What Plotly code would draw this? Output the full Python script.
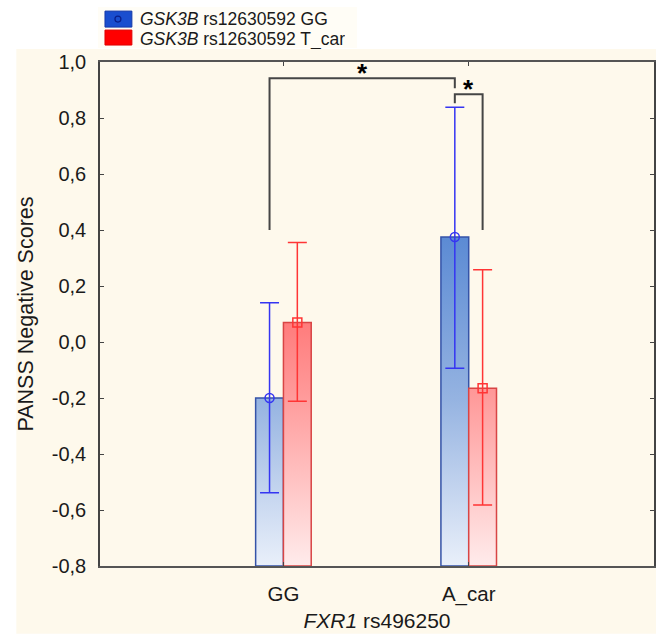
import plotly.graph_objects as go

# ---------------- data ----------------
categories = ["GG", "A_car"]
series_names = ["<i>GSK3B</i> rs12630592 GG", "<i>GSK3B</i> rs12630592 T_car"]
means_gg = [-0.20, 0.375]
upper_gg = [0.14, 0.838]
lower_gg = [-0.538, -0.094]
means_tcar = [0.07, -0.165]
upper_tcar = [0.355, 0.258]
lower_tcar = [-0.212, -0.582]
y_ticks = [-0.8, -0.6, -0.4, -0.2, 0.0, 0.2, 0.4, 0.6, 0.8, 1.0]
y_tick_labels = ["-0,8", "-0,6", "-0,4", "-0,2", "0,0", "0,2", "0,4", "0,6", "0,8", "1,0"]
# significance brackets: (cat_a, series_a, cat_b, series_b, top, leg_a_bottom, leg_b_bottom)
brackets = [
    (0, 0, 1, 0, 0.942, 0.40, 0.906),
    (1, 0, 1, 1, 0.885, 0.853, 0.40),
]

# ---------------- style ----------------
Y_MIN, Y_MAX = -0.8, 1.0
BAR_W = 0.15
OFFS = [-0.075, 0.075]
FONT = "Liberation Sans, Arial, sans-serif"
TXT = "#1a1a1a"
CREAM = "#FEF9EC"
blue_scale = [[0, "#EAF0FA"], [0.333, "#95B3E1"], [0.65, "#5C8BD4"], [1, "#3D6EC5"]]
red_scale = [[0, "#FFECEC"], [0.353, "#FF9797"], [0.483, "#FF7C7C"], [1, "#FF5252"]]
series = [
    dict(m=means_gg, u=upper_gg, l=lower_gg, scale=blue_scale, edge="#3553A8",
         err="#3535F2", sym="circle-open"),
    dict(m=means_tcar, u=upper_tcar, l=lower_tcar, scale=red_scale, edge="#D84545",
         err="#FF3535", sym="square-open"),
]

fig = go.Figure()

# bars (gradient-filled rectangles)
for si, s in enumerate(series):
    for ci, cat in enumerate(categories):
        xc = ci + OFFS[si]
        x0, x1 = xc - BAR_W / 2, xc + BAR_W / 2
        m = s["m"][ci]
        fig.add_trace(go.Scatter(
            x=[x0, x1, x1, x0, x0], y=[Y_MIN, Y_MIN, m, m, Y_MIN],
            mode="lines", fill="toself",
            fillgradient=dict(type="vertical", colorscale=s["scale"], start=Y_MIN, stop=Y_MAX),
            line=dict(color=s["edge"], width=1.5),
            showlegend=False, hoverinfo="skip"))

# error bars + mean markers
for si, s in enumerate(series):
    xs = [ci + OFFS[si] for ci in range(len(categories))]
    fig.add_trace(go.Scatter(
        x=xs, y=s["m"], mode="markers", name=series_names[si], showlegend=False,
        marker=dict(symbol=s["sym"], size=9, color=s["err"], line=dict(width=1.5, color=s["err"])),
        error_y=dict(type="data", symmetric=False,
                     array=[u - m for u, m in zip(s["u"], s["m"])],
                     arrayminus=[m - l for m, l in zip(s["m"], s["l"])],
                     color=s["err"], thickness=1.5, width=9.5)))

# significance brackets
for (ca, sa, cb, sb, top, la, lb) in brackets:
    xa, xb = ca + OFFS[sa], cb + OFFS[sb]
    fig.add_trace(go.Scatter(x=[xa, xa, xb, xb], y=[la, top, top, lb], mode="lines",
                             line=dict(color="#454545", width=2), showlegend=False,
                             hoverinfo="skip"))
    fig.add_annotation(x=(xa + xb) / 2, y=top, text="<b>*</b>", showarrow=False,
                       xref="x", yref="y", yanchor="bottom", yshift=-12,
                       font=dict(size=26, color="#000000", family=FONT))

# ---------------- layout helpers (pixel -> paper) ----------------
W, H = 662, 635
L, R, T, B = 100, 6, 62, 68
PW, PH = W - L - R, H - T - B


def px(x):
    return (x - L) / PW


def py(y):
    return (H - B - y) / PH


shapes = [
    dict(type="rect", xref="paper", yref="paper", x0=px(16), x1=px(658), y0=py(635), y1=py(49),
         fillcolor=CREAM, line=dict(width=0), layer="below"),
    dict(type="rect", xref="paper", yref="paper", x0=px(98), x1=px(358), y0=py(48), y1=py(7),
         fillcolor="#FFFDF6", line=dict(width=0), layer="below"),
    # legend swatches
    dict(type="rect", xref="paper", yref="paper", x0=px(105), x1=px(132), y0=py(27), y1=py(11),
         fillcolor="#1A4ECF", line=dict(color="#1538A8", width=1)),
    dict(type="circle", xref="paper", yref="paper", x0=px(115), x1=px(121), y0=py(22), y1=py(16),
         fillcolor="rgba(0,0,0,0)", line=dict(color="#0A1E8A", width=1.2)),
    dict(type="rect", xref="paper", yref="paper", x0=px(105), x1=px(132), y0=py(45), y1=py(30),
         fillcolor="#FF0000", line=dict(color="#E00000", width=1)),
]
for i, nm in enumerate(series_names):
    fig.add_annotation(xref="paper", yref="paper", x=px(139), y=py(18.5 + 20 * i), text=nm,
                       showarrow=False, xanchor="left", yanchor="middle", height=20,
                       borderpad=0, font=dict(size=17.5, color=TXT, family=FONT))

fig.update_layout(
    width=W, height=H,
    margin=dict(l=L, r=R, t=T, b=B),
    paper_bgcolor="white", plot_bgcolor=CREAM,
    font=dict(family=FONT, color=TXT, size=20),
    showlegend=False,
    shapes=shapes,
    xaxis=dict(range=[-0.99, 2.0], tickvals=list(range(len(categories))), ticktext=categories,
               ticks="inside", ticklen=4, tickcolor="#444", showline=True, linecolor="#555",
               linewidth=2, mirror="ticks", showgrid=False, zeroline=False,
               tickfont=dict(size=20.5, color=TXT), ticklabelstandoff=8,
               title=dict(text="<i>FXR1</i> rs496250", font=dict(size=21, color=TXT), standoff=9)),
    yaxis=dict(range=[Y_MIN, Y_MAX], tickvals=y_ticks, ticktext=y_tick_labels,
               ticks="inside", ticklen=4, tickcolor="#444", showline=True, linecolor="#444",
               linewidth=1.5, mirror="ticks", showgrid=False, zeroline=False,
               tickfont=dict(size=20, color=TXT), ticklabelstandoff=8,
               title=dict(text="PANSS Negative Scores", font=dict(size=21.5, color=TXT), standoff=12)),
)

fig.write_html("out.html")
